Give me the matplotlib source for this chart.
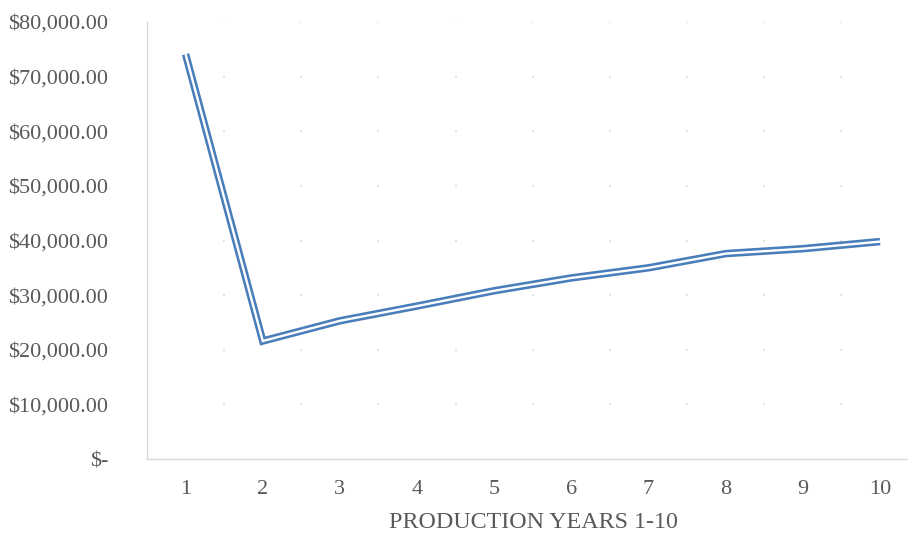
import numpy as np
import matplotlib.pyplot as plt
from matplotlib.ticker import FuncFormatter

years = [1, 2, 3, 4, 5, 6, 7, 8, 9, 10]
cost = [74100, 21600, 25300, 28000, 30800, 33150, 35000, 37600, 38500, 39800]
y_ticks = [0, 10000, 20000, 30000, 40000, 50000, 60000, 70000, 80000]

LINE = '#4A7EBB'
TEXT = '#595959'
AXIS = '#D9D9D9'

plt.rcParams['font.family'] = ['Liberation Serif', 'DejaVu Serif']

fig = plt.figure(figsize=(9.08, 5.35), dpi=100)
ax = fig.add_axes([147 / 908, 1 - 459 / 535, (918.6 - 147) / 908, (459 - 22) / 535])

ax.set_xlim(0.5, 10.5)
ax.set_ylim(0, 80000)

# faint dots where the category borders cross the value gridlines
bx = np.arange(1.5, 11, 1.0)
gx, gy = np.meshgrid(bx, y_ticks[1:])
ax.scatter(gx.ravel(), gy.ravel(), s=2.5, color='#E3E3E3', marker='s', linewidths=0, zorder=1)

# compound (double) line: thick blue with a thin white core
ax.plot(years, cost, color=LINE, lw=5.4, solid_capstyle='butt', solid_joinstyle='miter', zorder=3)
ax.plot(years, cost, color='white', lw=1.7, solid_capstyle='butt', solid_joinstyle='miter', zorder=4)

ax.set_xticks(years)
ax.set_yticks(y_ticks)
ax.yaxis.set_major_formatter(FuncFormatter(lambda v, p: '$-' if v == 0 else f'${v:,.2f}'))
ax.tick_params(axis='both', length=0, labelsize=16, labelcolor=TEXT)
ax.tick_params(axis='y', pad=28)
ax.tick_params(axis='x', pad=15)

for s in ['top', 'right']:
    ax.spines[s].set_visible(False)
for s in ['left', 'bottom']:
    ax.spines[s].set_color(AXIS)
    ax.spines[s].set_linewidth(1)

ax.set_xlabel('PRODUCTION YEARS 1-10', fontsize=17.3, color=TEXT)
ax.xaxis.set_label_coords((533 - 147) / (918.6 - 147), -(522 - 459) / (459 - 22), transform=ax.transAxes)
ax.xaxis.label.set_va('center')

fig.savefig('out.png', dpi=100)
